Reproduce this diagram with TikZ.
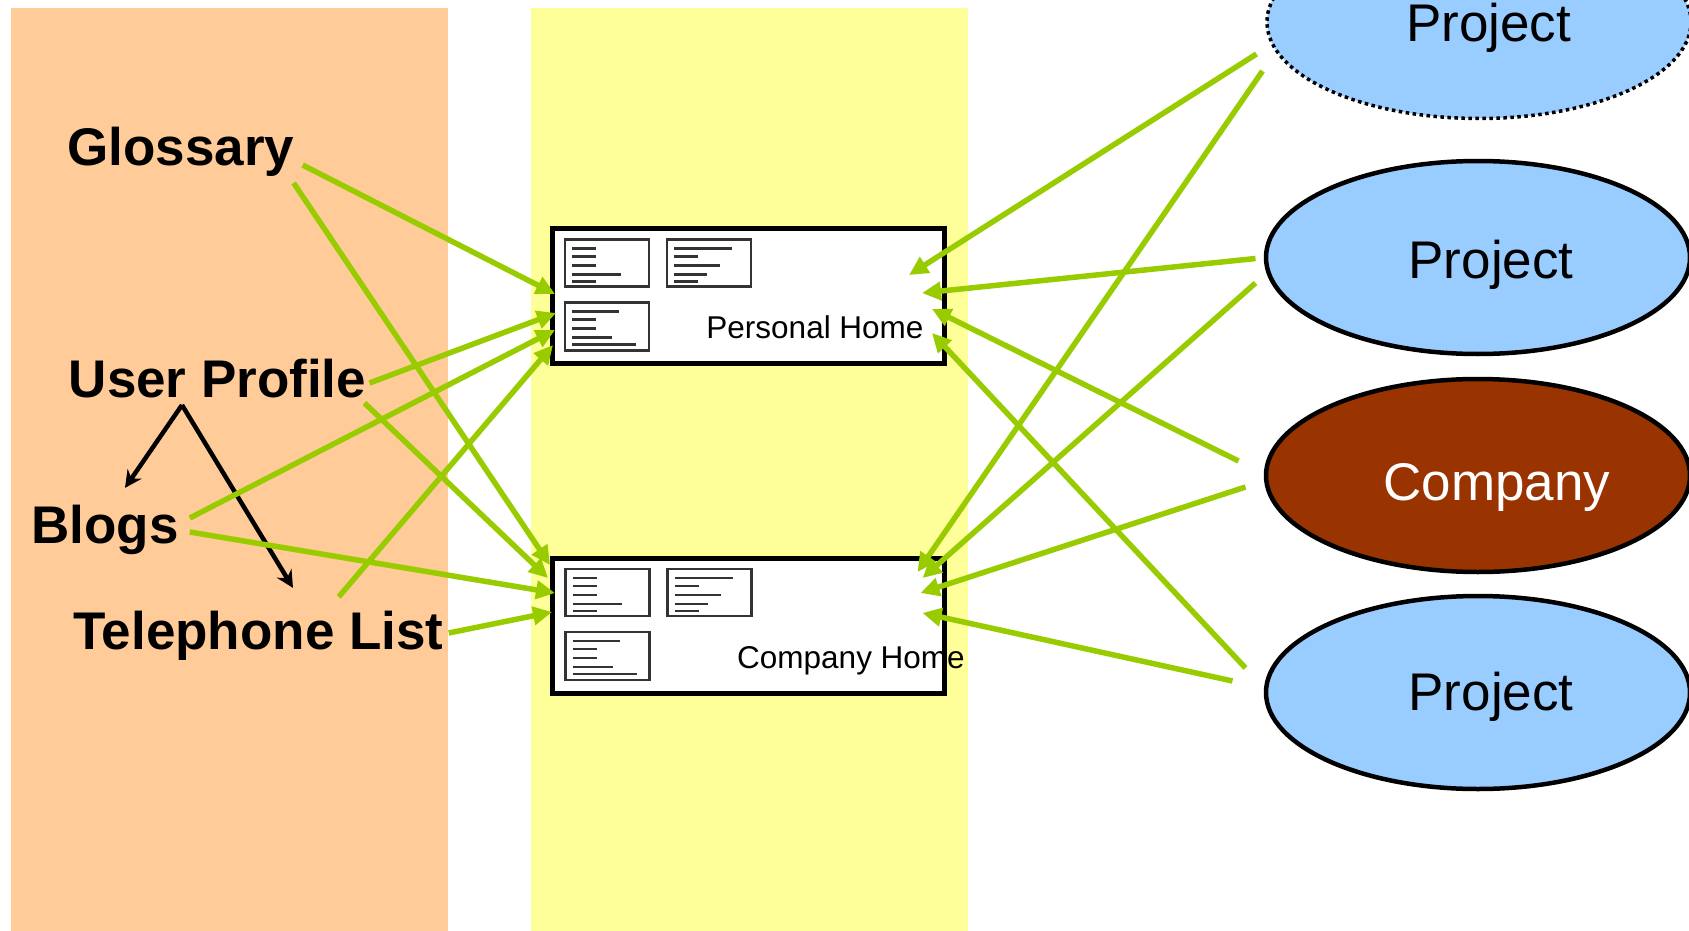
\documentclass[tikz,border=0pt]{standalone}
\usepackage{fontspec}
\setmainfont{Liberation Sans}
\usetikzlibrary{
    arrows.meta,
    shapes.geometric
}
\definecolor{panel orange}{HTML}{FFCC99}
\definecolor{panel yellow}{HTML}{FFFF99}
\definecolor{link green}{HTML}{99CC00}
\definecolor{project blue}{HTML}{99CCFF}
\definecolor{company brown}{HTML}{993300}
\tikzset{
    % Texts
    topic/.style={font=\fontsize{53}{60}\selectfont\bfseries,inner sep=0pt,anchor=base},
    unit text/.style={font=\fontsize{53}{60}\selectfont,inner sep=0pt,anchor=base},
    home text/.style={font=\fontsize{31.5}{36}\selectfont,inner sep=0pt,anchor=base},
    %
    % Nodes
    home/.style={draw,line width=5pt,fill=white,minimum width=392pt,minimum height=135pt,inner sep=0pt,outer sep=0pt},
    unit/.style={ellipse,draw,line width=4.5pt,fill=project blue,minimum width=424pt,minimum height=193pt,inner sep=0pt,outer sep=0pt},
    proposed unit/.style={unit,line width=3.5pt,dash pattern=on 3.5pt off 3.5pt},
    %
    % Arrows
    link/.style={-{Triangle[length=19pt,width=18pt]},link green,line width=5.5pt},
    sub/.style={-{Stealth[length=17pt,width=17pt]},line width=4.5pt},
    %
    % Little document sheets
    sheet/.style={draw=black!80,line width=2.3pt,fill=white},
    textline/.style={draw=black!80,line width=2.3pt},
    doc icons/.pic={
        \draw[sheet] (13,-11) rectangle ++(84,-47);
        \draw[sheet] (115,-11) rectangle ++(84,-47);
        \draw[sheet] (13,-74) rectangle ++(84,-48);
        \foreach \y/\l in {9/24,17/24,26/24,35/49,42/24}
            \draw[textline] (20,-11-\y) -- ++(\l,0);
        \foreach \y/\l in {9/58,17/24,26/46,35/33,42/24}
            \draw[textline] (122,-11-\y) -- ++(\l,0);
        \foreach \y/\l in {9/47,17/24,26/24,35/40,42/64}
            \draw[textline] (20,-74-\y) -- ++(\l,0);
    }
}

\begin{document}
\begin{tikzpicture}[x=1pt,y=1pt]
        \useasboundingbox (0,0) rectangle (1689,-931);
        
        % panels
        \fill[panel orange] (11,-8) rectangle (448,-931);
        \fill[panel yellow] (531,-8) rectangle (968,-931);
        
        % topics
        \node[topic] (gloss) at (181,-165) {Glossary};
        \node[topic] (uprof) at (217.5,-397) {User Profile};
        \node[topic] (blogs) at (105,-543) {Blogs};
        \node[topic] (tel) at (258.5,-649) {Telephone List};
        
        % homes
        \node[home] (ph) at (748,-296) {};
        \node[home] (ch) at (748.5,-625.5) {};
        \pic at (ph.north west) {doc icons};
        \pic at (ch.north west) {doc icons};
        \node[home text] (ph-txt) at ([shift={(67,-42)}]ph.center) {Personal Home};
        \node[home text] (ch-txt) at ([shift={(102.5,-42.5)}]ch.center) {Company Home};
        
        % units
        \node[proposed unit] (p1) at (1479,-22) {};
        \node[unit] (p2) at (1478,-257.5) {};
        \node[unit,fill=company brown] (co) at (1478,-475.5) {};
        \node[unit] (p4) at (1478,-692.5) {};
        \node[unit text] (p1-txt) at ([shift={(9.5,-20)}]p1.center) {Project};
        \node[unit text] (p2-txt) at ([shift={(13,-20.5)}]p2.center) {Project};
        \node[unit text,white] (co-txt) at ([shift={(19,-24.5)}]co.center) {Company};
        \node[unit text] (p4-txt) at ([shift={(13,-17.5)}]p4.center) {Project};
        
        % user profile parts
        \coordinate (fork) at ([shift={(-35.5,-8)}]uprof.base);
        \draw[sub] (fork) -- ([shift={(20,16.5)}]blogs.north);
        \draw[sub] (fork) -- ([shift={(34.5,22.5)}]tel.north);
        
        % links from the topics
        \draw[link] ([xshift=8pt]gloss.base east) -- ([shift={(3,2)}]ph.west);
        \draw[link] ([shift={(-1,-18)}]gloss.base east) -- ([shift={(-2.5,60.5)}]ch.west);
        \draw[link] ([shift={(3,14)}]uprof.base east) -- ([shift={(4,-17)}]ph.west);
        \draw[link] ([shift={(-2,-6)}]uprof.base east) -- ([shift={(-4.5,47.5)}]ch.west);
        \draw[link] ([shift={(11,25)}]blogs.base east) -- ([shift={(3,-34)}]ph.west);
        \draw[link] ([shift={(11,11)}]blogs.base east) -- ([shift={(2.5,32.5)}]ch.west);
        \draw[link] ([shift={(-105,13.5)}]tel.north east) -- ([shift={(1,-49)}]ph.west);
        \draw[link] ([shift={(5,16)}]tel.base east) -- ([shift={(-0.5,13.5)}]ch.west);
        
        % links from the units
        \draw[link] ([shift={(-10.5,-32)}]p1.west) -- ([shift={(-35,21)}]ph.east);
        \draw[link] ([shift={(-4.5,-49)}]p1.west) -- ([shift={(-27,53.5)}]ch.east);
        \draw[link] ([shift={(-10.5,-1)}]p2.west) -- ([shift={(-22,3)}]ph.east);
        \draw[link] ([shift={(-10.5,-25.5)}]p2.west) -- ([shift={(-22,47.5)}]ch.east);
        \draw[link] ([shift={(-27.5,14.5)}]co.west) -- ([shift={(-12,-13)}]ph.east);
        \draw[link] ([shift={(-20.5,-11.5)}]co.west) -- ([shift={(-24,32.5)}]ch.east);
        \draw[link] ([shift={(-20.5,24.5)}]p4.west) -- ([shift={(-12,-37)}]ph.east);
        \draw[link] ([shift={(-33.5,11.5)}]p4.west) -- ([shift={(-22,12.5)}]ch.east);
    \end{tikzpicture}
\end{document}
